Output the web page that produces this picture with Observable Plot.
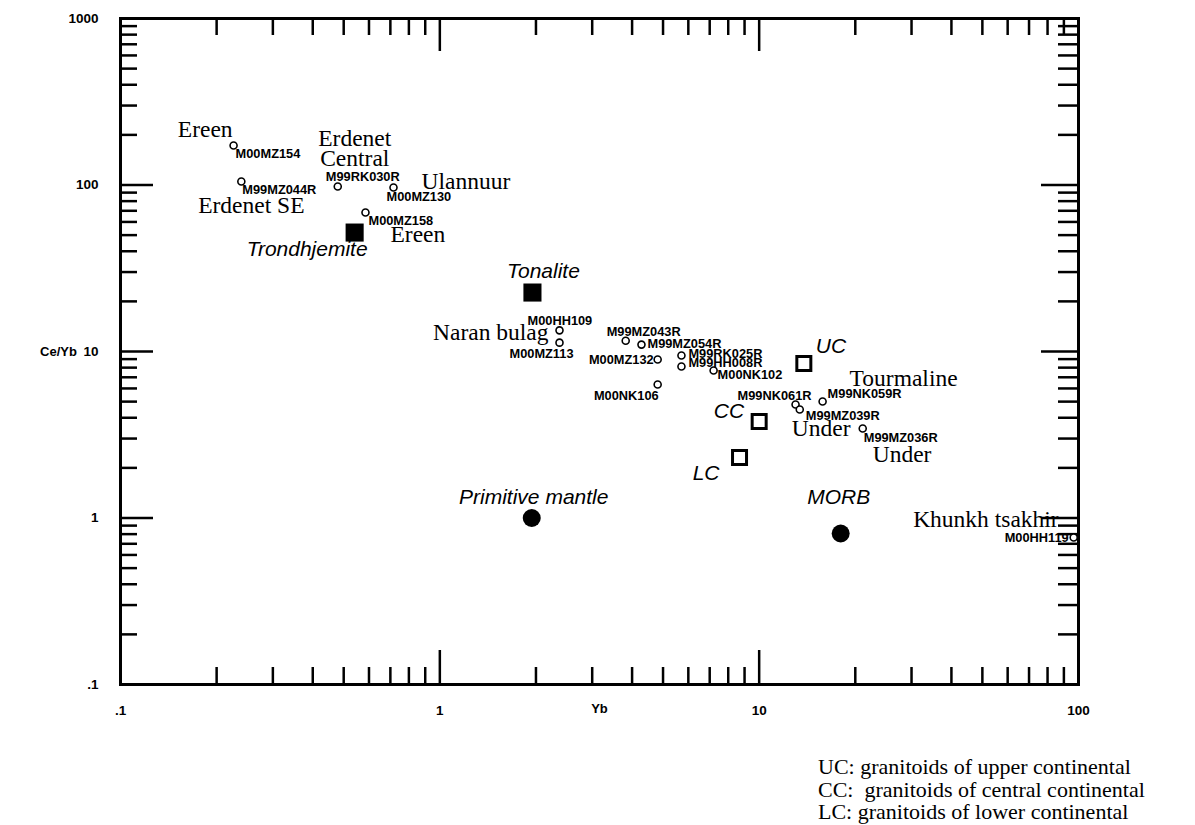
<!DOCTYPE html>
<html><head><meta charset="utf-8">
<script src="https://cdn.jsdelivr.net/npm/d3@7"></script>
<script src="https://cdn.jsdelivr.net/npm/@observablehq/plot@0.6"></script>
<style>
body{margin:0;background:#fff;}
svg{display:block;}
#caption{margin-left:818px;font-family:"Liberation Serif","Times New Roman",serif;font-size:22px;line-height:22.5px;color:#000;white-space:pre;}
</style></head><body><div id="chart"></div><div id="caption"></div>
<script>
// ---- data ----
const sampleCodes = ["M00MZ154","M99MZ044R","M99RK030R","M00MZ130","M00MZ158","M00HH109","M00MZ113","M99MZ043R","M99MZ054R","M00MZ132","M99RK025R","M99HH008R","M00NK102","M00NK106","M99NK061R","M99MZ039R","M99NK059R","M99MZ036R","M00HH119"];
const sampleYb   = [0.226,0.239,0.479,0.716,0.585,2.37,2.37,3.82,4.28,4.81,5.71,5.71,7.2,4.81,13.0,13.4,15.8,21.1,96.6];
const sampleCeYb = [172.7,105,98,96.6,68.4,13.4,11.3,11.6,11.0,8.95,9.46,8.13,7.69,6.34,4.80,4.48,5.01,3.45,0.764];
const sampleLocality = ["Ereen","Erdenet SE","Erdenet\nCentral","Ulannuur","Ereen","Naran bulag","","","","","","","","","","Under","Tourmaline","Under","Khunkh tsakhir"];

const refNames = ["Trondhjemite","Tonalite","UC","CC","LC","Primitive mantle","MORB"];
const refYb    = [0.541,1.95,13.8,10.0,8.68,1.94,18.0];
const refCeYb  = [51.8,22.6,8.47,3.80,2.31,1.0,0.807];

const xTicks = [0.1,1,10,100];
const xTickLabels = [".1","1","10","100"];
const yTicks = [1000,100,10,1,0.1];
const yTickLabels = ["1000","100","10","1",".1"];
const xTitle = "Yb";
const yTitle = "Ce/Yb";
const noteLines = ["UC: granitoids of upper continental","CC:  granitoids of central continental","LC: granitoids of lower continental"];

// ---- layout (label offsets in px: anchor, dx, dy to baseline) ----
const codeLayout = {
  M00MZ154:["start",2,13], M99MZ044R:["start",1,13], M99RK030R:["start",-12,-5], M00MZ130:["start",-7,13],
  M00MZ158:["start",3,13], M00HH109:["start",-32,-5], M00MZ113:["end",14,15], M99MZ043R:["start",-19,-5],
  M99MZ054R:["start",6,3], M00MZ132:["end",-4,4], M99RK025R:["start",7,2], M99HH008R:["start",7,1],
  M00NK102:["start",4,9], M00NK106:["end",1,16], M99NK061R:["end",16,-5], M99MZ039R:["start",6,10],
  M99NK059R:["start",5,-3], M99MZ036R:["start",1,14], M00HH119:["end",-5,5]
};
const locLayout = {
  M00MZ154:["end",-1,-8], M99MZ044R:["middle",10,32], M99RK030R:["middle",17,-20], M00MZ130:["start",28,1],
  M00MZ158:["start",25,30], M00HH109:["end",-11,10], M99NK059R:["start",27,-15], M99MZ039R:["start",-8,26],
  M99MZ036R:["start",10,34], M00HH119:["end",-15,-10]
};
const refLayout = {
  "Trondhjemite":["end",13,23], "Tonalite":["middle",11,-15], "UC":["start",12,-11], "CC":["end",-15,-3],
  "LC":["end",-20,23], "Primitive mantle":["middle",2,-14], "MORB":["middle",-2,-30]
};
const refSymbol = {"Trondhjemite":"sq-fill","Tonalite":"sq-fill","UC":"sq-open","CC":"sq-open","LC":"sq-open","Primitive mantle":"circ-fill","MORB":"circ-fill"};

const samples = sampleCodes.map((c,i)=>({code:c, yb:sampleYb[i], ceyb:sampleCeYb[i], loc:sampleLocality[i]}));
const refs = refNames.map((n,i)=>({name:n, yb:refYb[i], ceyb:refCeYb[i]}));

const W = 1195, H = 756, mL = 120, mR = 117, mT = 18, mB = 72;
const fh = H - mT - mB;
const decadesX = [0.1,1,10];
const decadesY = [0.1,1,10,100];
const mult = [2,3,4,5,6,7,8,9];
const xMinor = decadesX.flatMap(d=>mult.map(m=>d*m));
const yMinor = decadesY.flatMap(d=>mult.map(m=>d*m));
const xMajor = [1,10];
const yMajor = [1,10,100];

const sans = "'Liberation Sans', Arial, Helvetica, sans-serif";
const serif = "'Liberation Serif', 'Times New Roman', serif";

const marks = [];
// ticks (inward)
const tk = {stroke:"#000", strokeWidth:2.5};
marks.push(Plot.ruleX(xMinor, {x:d=>d, insetTop: fh-17, ...tk}));
marks.push(Plot.ruleX(xMinor, {x:d=>d, insetBottom: fh-17, ...tk}));
marks.push(Plot.ruleX(xMajor, {x:d=>d, insetTop: fh-34, ...tk}));
marks.push(Plot.ruleX(xMajor, {x:d=>d, insetBottom: fh-33, ...tk}));
const fw = W - mL - mR;
marks.push(Plot.ruleY(yMinor, {y:d=>d, insetRight: fw-17, ...tk}));
marks.push(Plot.ruleY(yMinor, {y:d=>d, insetLeft: fw-20, ...tk}));
marks.push(Plot.ruleY(yMajor, {y:d=>d, insetRight: fw-33, ...tk}));
marks.push(Plot.ruleY(yMajor, {y:d=>d, insetLeft: fw-37, ...tk}));
marks.push(Plot.frame({stroke:"#000", strokeWidth:3}));

// axis labels
marks.push(Plot.axisX(xTicks, {tickSize:0, tickPadding:21, tickFormat:d=>xTickLabels[xTicks.indexOf(d)], fontSize:13.5, fontWeight:"bold", fontFamily:sans, fill:"#000", label:null}));
marks.push(Plot.axisY(yTicks, {tickSize:0, tickPadding:22, tickFormat:d=>yTickLabels[yTicks.indexOf(d)], fontSize:13.5, fontWeight:"bold", fontFamily:sans, fill:"#000", label:null}));
marks.push(Plot.text([yTitle], {text:d=>d, frameAnchor:"left", dx:-62, textAnchor:"middle", fontSize:13, fontWeight:"bold", fontFamily:sans, fill:"#000"}));
marks.push(Plot.text([xTitle], {text:d=>d, frameAnchor:"bottom", dy:28, textAnchor:"middle", fontSize:13, fontWeight:"bold", fontFamily:sans, fill:"#000"}));

// samples
marks.push(Plot.dot(samples, {x:"yb", y:"ceyb", r:3.5, stroke:"#000", strokeWidth:1.6, fill:"white"}));
// reference symbols
marks.push(Plot.dot(refs.filter(d=>refSymbol[d.name]==="sq-fill"), {x:"yb", y:"ceyb", symbol:"square", r:10.2, fill:"#000"}));
marks.push(Plot.dot(refs.filter(d=>refSymbol[d.name]==="sq-open"), {x:"yb", y:"ceyb", symbol:"square", r:7.9, fill:"white", stroke:"#000", strokeWidth:3}));
marks.push(Plot.dot(refs.filter(d=>refSymbol[d.name]==="circ-fill"), {x:"yb", y:"ceyb", r:9, fill:"#000"}));

// sample code labels
for (const s of samples) {
  const [a,dx,dy] = codeLayout[s.code];
  marks.push(Plot.text([s], {x:"yb", y:"ceyb", text:"code", textAnchor:a, dx, dy, lineAnchor:"bottom", fontSize:12.8, fontWeight:"bold", fontFamily:sans, fill:"#000"}));
}
// locality labels
for (const s of samples.filter(d=>d.loc)) {
  const [a,dx,dy] = locLayout[s.code];
  marks.push(Plot.text([s], {x:"yb", y:"ceyb", text:"loc", textAnchor:a, dx, dy, lineAnchor:"bottom", lineHeight:0.85, fontSize:23.5, fontFamily:serif, fill:"#000"}));
}
// reference labels
for (const r of refs) {
  const [a,dx,dy] = refLayout[r.name];
  marks.push(Plot.text([r], {x:"yb", y:"ceyb", text:"name", textAnchor:a, dx, dy, lineAnchor:"bottom", fontSize:21, fontStyle:"italic", fontFamily:sans, fill:"#000"}));
}

const chart = Plot.plot({
  width: W, height: H,
  marginLeft: mL, marginRight: mR, marginTop: mT, marginBottom: mB,
  x: {type:"log", domain:[0.1,100], label:null},
  y: {type:"log", domain:[0.1,1000], label:null},
  style: {background:"#fff", color:"#000"},
  marks
});
document.getElementById("chart").appendChild(chart);
document.getElementById("caption").textContent = noteLines.join("\n");
</script></body></html>
